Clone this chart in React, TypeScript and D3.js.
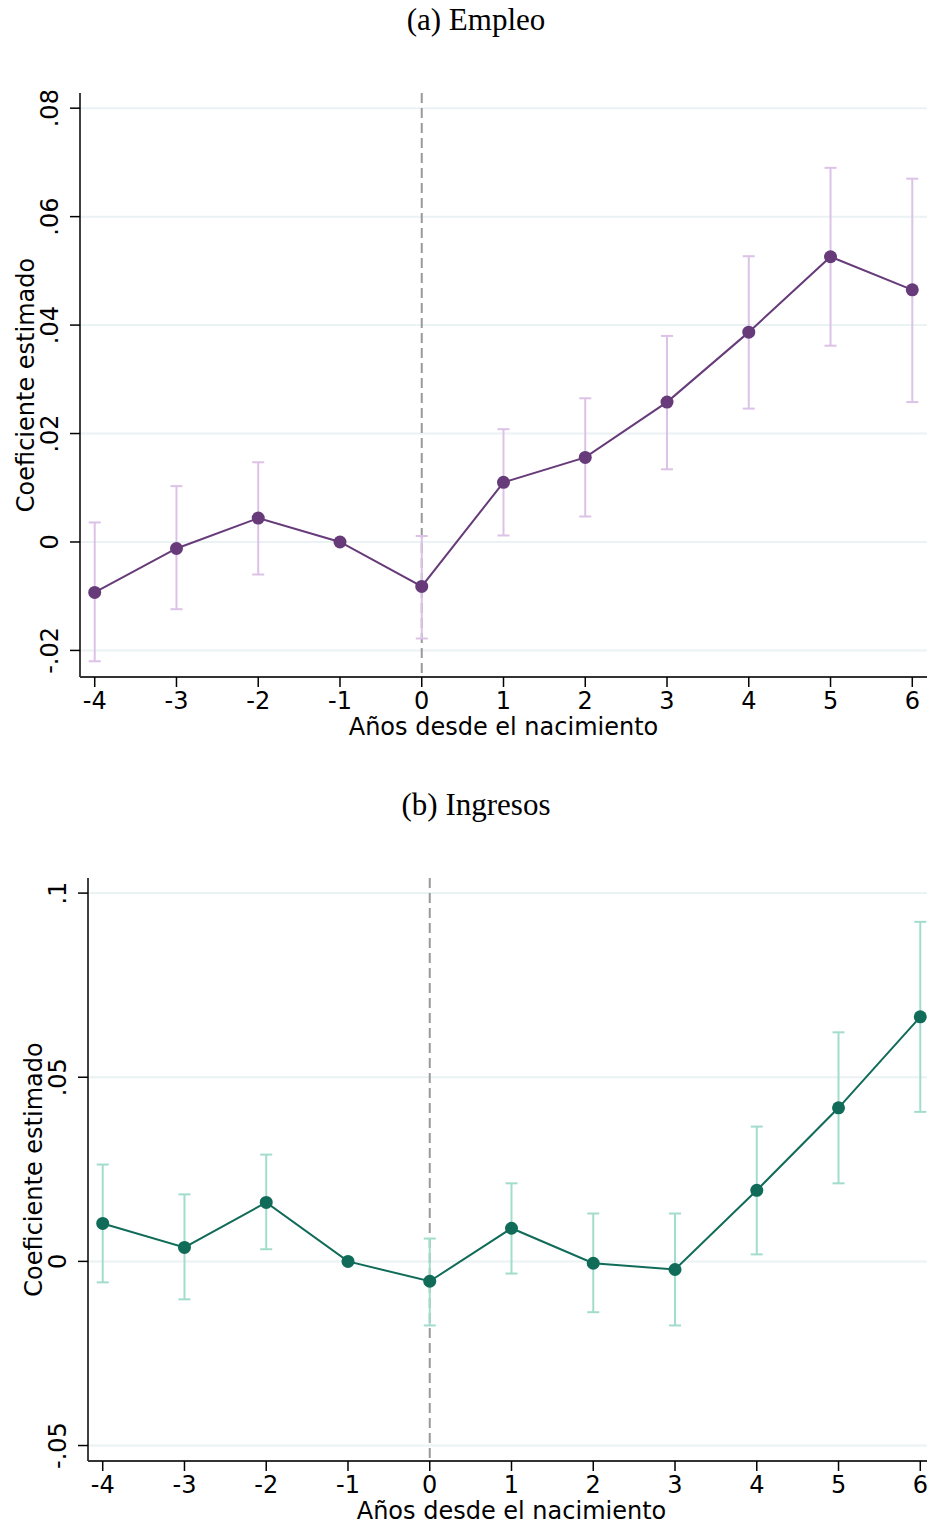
import { useEffect, useRef } from "react";
import * as d3 from "d3";

// years relative to birth
const years = [-4, -3, -2, -1, 0, 1, 2, 3, 4, 5, 6];

// (a) Empleo
const empleoCoef = [-0.0093, -0.0012, 0.0044, 0, -0.0082, 0.011, 0.0156, 0.0258, 0.0387, 0.0526, 0.0465];
const empleoLo = [-0.022, -0.0124, -0.006, null, -0.0178, 0.0012, 0.0047, 0.0134, 0.0246, 0.0362, 0.0258];
const empleoHi = [0.0036, 0.0103, 0.0147, null, 0.0011, 0.0208, 0.0265, 0.038, 0.0527, 0.069, 0.067];
const empleoTicks = [-0.02, 0, 0.02, 0.04, 0.06, 0.08];
const empleoTickLabels = ["-.02", "0", ".02", ".04", ".06", ".08"];

// (b) Ingresos
const ingresosCoef = [0.0103, 0.0038, 0.016, 0, -0.0054, 0.009, -0.0005, -0.0022, 0.0193, 0.0417, 0.0664];
const ingresosLo = [-0.0057, -0.0103, 0.0033, null, -0.0174, -0.0033, -0.0138, -0.0174, 0.0019, 0.0212, 0.0406];
const ingresosHi = [0.0263, 0.0182, 0.029, null, 0.0062, 0.0212, 0.013, 0.013, 0.0366, 0.0622, 0.0922];
const ingresosTicks = [-0.05, 0, 0.05, 0.1];
const ingresosTickLabels = ["-.05", "0", ".05", ".1"];

const sans = "DejaVu Sans, sans-serif";
const serif = "Liberation Serif, Times New Roman, serif";

const App = () => {
  const ref = useRef(null);

  useEffect(() => {
    const svg = d3.select(ref.current);
    svg.selectAll("*").remove();

    const drawPanel = (opts) => {
      const { top, bottom, left, right, yDomain, coef, lo, hi, ticks, tickLabels, title, titleY, dark, light } = opts;

      const x = d3.scaleLinear().domain([-4.18, 6.18]).range([left, right]);
      const y = d3.scaleLinear().domain(yDomain).range([bottom, top]);
      const g = svg.append("g");

      // title
      svg
        .append("text")
        .attr("x", 476)
        .attr("y", titleY)
        .attr("text-anchor", "middle")
        .style("font-family", serif)
        .style("font-size", "31px")
        .text(title);

      // gridlines
      g.selectAll(".grid")
        .data(ticks)
        .enter()
        .append("line")
        .attr("x1", left)
        .attr("x2", right)
        .attr("y1", (d) => y(d))
        .attr("y2", (d) => y(d))
        .attr("stroke", "#eaf2f3")
        .attr("stroke-width", 2);

      // dashed line at 0
      g.append("line")
        .attr("x1", x(0))
        .attr("x2", x(0))
        .attr("y1", top)
        .attr("y2", bottom)
        .attr("stroke", "#999999")
        .attr("stroke-width", 2)
        .attr("stroke-dasharray", "10,5");

      // y axis
      const yAxis = g.append("g").attr("transform", `translate(${left},0)`);
      yAxis.append("line").attr("x1", 0).attr("x2", 0).attr("y1", top).attr("y2", bottom).attr("stroke", "#000").attr("stroke-width", 1.5);
      ticks.forEach((t, i) => {
        yAxis.append("line").attr("x1", -10).attr("x2", 0).attr("y1", y(t)).attr("y2", y(t)).attr("stroke", "#000").attr("stroke-width", 1.5);
        yAxis
          .append("text")
          .attr("transform", `translate(-22,${y(t)}) rotate(-90)`)
          .attr("text-anchor", "middle")
          .style("font-family", sans)
          .style("font-size", "24px")
          .text(tickLabels[i]);
      });
      yAxis
        .append("text")
        .attr("transform", `translate(-46,${(top + bottom) / 2}) rotate(-90)`)
        .attr("text-anchor", "middle")
        .style("font-family", sans)
        .style("font-size", "24px")
        .text("Coeficiente estimado");

      // x axis
      const xAxis = g.append("g").attr("transform", `translate(0,${bottom})`);
      xAxis.append("line").attr("x1", left).attr("x2", right).attr("y1", 0).attr("y2", 0).attr("stroke", "#333").attr("stroke-width", 2);
      years.forEach((yr) => {
        xAxis.append("line").attr("x1", x(yr)).attr("x2", x(yr)).attr("y1", 0).attr("y2", 10).attr("stroke", "#000").attr("stroke-width", 1.5);
        xAxis
          .append("text")
          .attr("x", x(yr))
          .attr("y", 32)
          .attr("text-anchor", "middle")
          .style("font-family", sans)
          .style("font-size", "24px")
          .text(yr);
      });
      xAxis
        .append("text")
        .attr("x", (left + right) / 2)
        .attr("y", 58)
        .attr("text-anchor", "middle")
        .style("font-family", sans)
        .style("font-size", "24px")
        .text("Años desde el nacimiento");

      // confidence intervals
      years.forEach((yr, i) => {
        if (lo[i] == null) return;
        const cx = x(yr);
        g.append("line").attr("x1", cx).attr("x2", cx).attr("y1", y(lo[i])).attr("y2", y(hi[i])).attr("stroke", light).attr("stroke-width", 2);
        [lo[i], hi[i]].forEach((v) => {
          g.append("line").attr("x1", cx - 6).attr("x2", cx + 6).attr("y1", y(v)).attr("y2", y(v)).attr("stroke", light).attr("stroke-width", 2);
        });
      });

      // line + points
      const line = d3
        .line()
        .x((d) => x(d[0]))
        .y((d) => y(d[1]));
      const pts = years.map((yr, i) => [yr, coef[i]]);
      g.append("path").attr("d", line(pts)).attr("fill", "none").attr("stroke", dark).attr("stroke-width", 2);
      g.selectAll(".pt")
        .data(pts)
        .enter()
        .append("circle")
        .attr("cx", (d) => x(d[0]))
        .attr("cy", (d) => y(d[1]))
        .attr("r", 6.5)
        .attr("fill", dark);
    };

    drawPanel({
      top: 93,
      bottom: 677,
      left: 80,
      right: 927,
      yDomain: [-0.0249, 0.0828],
      coef: empleoCoef,
      lo: empleoLo,
      hi: empleoHi,
      ticks: empleoTicks,
      tickLabels: empleoTickLabels,
      title: "(a) Empleo",
      titleY: 30,
      dark: "#673b7a",
      light: "#dcc2e6",
    });

    drawPanel({
      top: 878,
      bottom: 1461,
      left: 88,
      right: 935,
      yDomain: [-0.0542, 0.1041],
      coef: ingresosCoef,
      lo: ingresosLo,
      hi: ingresosHi,
      ticks: ingresosTicks,
      tickLabels: ingresosTickLabels,
      title: "(b) Ingresos",
      titleY: 815,
      dark: "#106b58",
      light: "#a2dccc",
    });
  }, []);

  return (
    <div style={{ position: "absolute", left: 0, top: 0, width: 927, height: 1525, overflow: "hidden", background: "#fff" }}>
      <svg ref={ref} width={927} height={1525}></svg>
    </div>
  );
};

export default App;
